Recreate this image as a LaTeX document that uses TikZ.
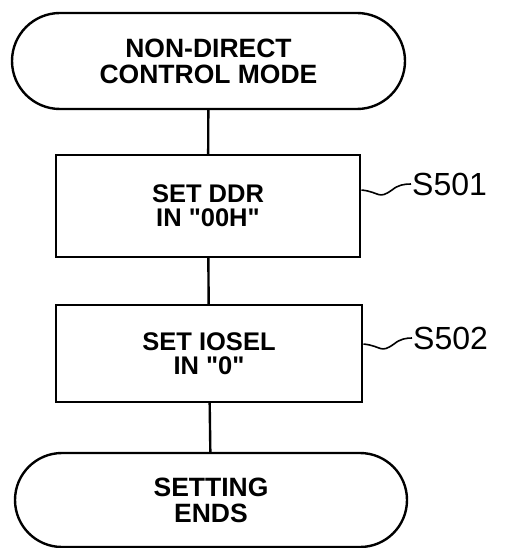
\documentclass[tikz,border=0pt]{standalone}
\usepackage{fontspec}
\setmainfont{Liberation Sans}
\usetikzlibrary{shapes.misc}
\begin{document}
\begin{tikzpicture}[x=1pt,y=-1pt,
  line width=2.4pt,
  term/.style={draw, rounded rectangle, align=center, inner sep=0pt,
    font=\fontsize{26.5}{26}\selectfont\bfseries},
  stepbox/.style={draw, rectangle, align=center, inner sep=0pt,
    font=\fontsize{25.5}{24}\selectfont\bfseries},
  lbl/.style={anchor=west, inner sep=0pt, font=\fontsize{32}{32}\selectfont},
  wire/.style={line width=1.6pt}]
\useasboundingbox (0,0) rectangle (513,548);
\node[term, minimum width=393pt, minimum height=96pt] (start) at (208.5,61) {NON-DIRECT\\CONTROL MODE};
\node[stepbox, minimum width=304pt, minimum height=102pt] (box1) at (208,206) {SET DDR\\IN \textquotedbl 00H\textquotedbl};
\node[stepbox, minimum width=306pt, minimum height=97pt] (box2) at (209,353.5) {SET IOSEL\\IN \textquotedbl 0\textquotedbl};
\node[term, minimum width=392pt, minimum height=94pt] (stop) at (211,500) {SETTING\\ENDS};
\draw (start) -- (box1);
\draw (box1) -- (box2);
\draw (box2) -- (stop);
\node[lbl] (s1) at (411,184) {S501};
\node[lbl] (s2) at (412,338) {S502};
\coordinate (w1) at (361.5,190);
\coordinate (w2) at (363.5,344);
\draw[wire] (w1) .. controls (380,192) and (378,200) .. (392,190) .. controls (398,185) and (404,184) .. (s1.west);
\draw[wire] (w2) .. controls (382,346) and (380,354) .. (394,344) .. controls (400,339) and (406,338) .. (s2.west);
\end{tikzpicture}
\end{document}
